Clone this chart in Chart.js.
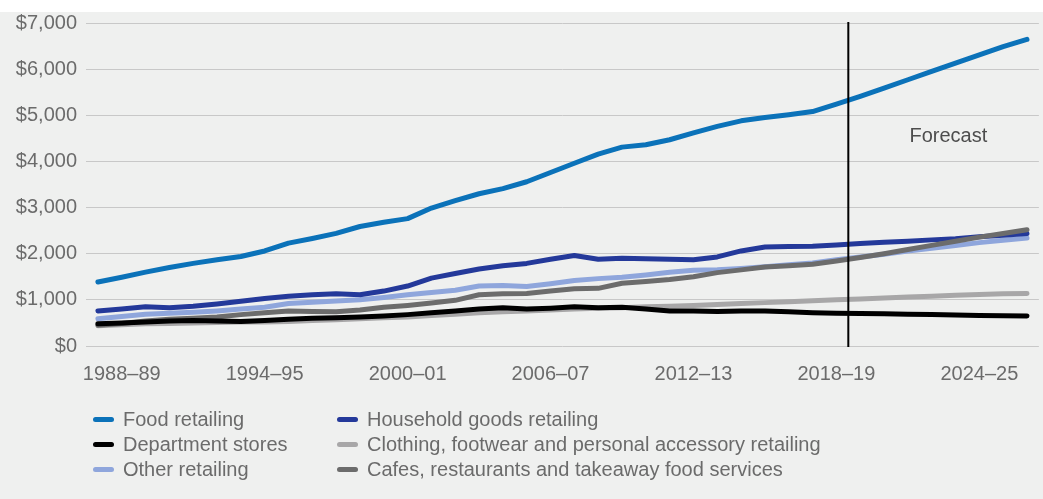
<!DOCTYPE html>
<html>
<head>
<meta charset="utf-8">
<script src="https://cdn.jsdelivr.net/npm/chart.js@4"></script>
<style>
  html, body { margin: 0; padding: 0; background: #fff; }
  #wrap { position: relative; width: 1043px; height: 499px; overflow: hidden; }
  #band { position: absolute; left: 0; top: 12px; width: 1043px; height: 487px; background: #eff0ef; }
  #myLineChart { position: absolute; left: 0; top: 0; }
  #legend {
    position: absolute; left: 93px; top: 407px;
    display: grid; grid-template-columns: 244px auto;
    font-family: "Liberation Sans", Arial, sans-serif; font-size: 20px; color: #6b6b6b;
    line-height: 25px;
  }
  #legend .item { display: flex; align-items: center; white-space: nowrap; }
  #legend .sw { width: 21px; height: 5px; border-radius: 3px; margin-right: 9px; }
</style>
</head>
<body>
<div id="wrap">
  <div id="band"></div>
  <canvas id="myLineChart" width="1043" height="499"></canvas>
  <div id="legend"></div>
</div>
<script>
// años financieros, del 1987-88 al 2026-27
const anios = [];
for (let a = 1987; a <= 2026; a++) {
  anios.push(a + '\u2013' + String((a + 1) % 100).padStart(2, '0'));
}

const alimentos = [1387, 1490, 1600, 1700, 1790, 1870, 1940, 2060, 2230, 2330,
  2440, 2590, 2680, 2760, 2990, 3150, 3300, 3410, 3560, 3760,
  3960, 4160, 4310, 4360, 4470, 4620, 4760, 4880, 4950, 5010,
  5080, 5240, 5410, 5590, 5770, 5950, 6130, 6310, 6490, 6645];
const hogar = [760, 800, 850, 830, 860, 910, 970, 1030, 1080, 1110,
  1130, 1110, 1190, 1300, 1470, 1570, 1670, 1740, 1790, 1880,
  1960, 1880, 1900, 1890, 1880, 1870, 1930, 2060, 2145, 2155,
  2160, 2190, 2220, 2250, 2270, 2300, 2325, 2370, 2400, 2440];
const tiendasDepto = [480, 500, 520, 540, 550, 540, 530, 550, 580, 600,
  610, 630, 650, 680, 720, 760, 800, 830, 800, 820,
  850, 830, 840, 800, 760, 760, 750, 760, 760, 740,
  720, 710, 705, 700, 690, 680, 670, 660, 655, 650];
const ropa = [440, 460, 480, 490, 500, 510, 520, 520, 530, 550,
  570, 590, 610, 630, 660, 690, 720, 740, 760, 780,
  800, 820, 830, 850, 860, 880, 900, 920, 940, 960,
  980, 1000, 1020, 1040, 1060, 1080, 1100, 1115, 1130, 1140];
const otros = [590, 640, 690, 710, 730, 760, 800, 840, 920, 950,
  975, 1000, 1050, 1110, 1160, 1210, 1300, 1310, 1290, 1350,
  1420, 1460, 1490, 1540, 1600, 1640, 1650, 1680, 1720, 1760,
  1800, 1870, 1930, 1990, 2060, 2120, 2180, 2240, 2290, 2340];
const cafes = [450, 490, 540, 580, 600, 630, 680, 720, 760, 750,
  740, 780, 840, 880, 930, 990, 1110, 1130, 1140, 1190,
  1240, 1250, 1360, 1400, 1440, 1500, 1590, 1650, 1710, 1740,
  1770, 1840, 1920, 2000, 2090, 2180, 2270, 2360, 2440, 2520];

const ultimoReal = '2018\u201319';
const textoPronostico = 'Forecast';

const series = [
  { label: 'Food retailing', data: alimentos, color: '#0b72b9', order: 0 },
  { label: 'Household goods retailing', data: hogar, color: '#24399a', order: 3 },
  { label: 'Department stores', data: tiendasDepto, color: '#000000', order: 1 },
  { label: 'Clothing, footwear and personal accessory retailing', data: ropa, color: '#a8a7a8', order: 5 },
  { label: 'Other retailing', data: otros, color: '#8fa6dc', order: 4 },
  { label: 'Cafes, restaurants and takeaway food services', data: cafes, color: '#6c6c6c', order: 2 }
];

const fuente = '"Liberation Sans", Arial, sans-serif';

// linea vertical y texto del pronostico
const pronosticoPlugin = {
  id: 'pronostico',
  afterDatasetsDraw(chart) {
    const { ctx, chartArea, scales } = chart;
    const i = anios.indexOf(ultimoReal);
    const x = (scales.x.getPixelForValue(i) + scales.x.getPixelForValue(i + 1)) / 2;
    ctx.save();
    ctx.strokeStyle = '#000';
    ctx.lineWidth = 2;
    ctx.beginPath();
    ctx.moveTo(x, chartArea.top - 1);
    ctx.lineTo(x, chartArea.bottom + 1);
    ctx.stroke();
    ctx.fillStyle = '#4d4d4d';
    ctx.font = '20px ' + fuente;
    ctx.textAlign = 'center';
    ctx.textBaseline = 'middle';
    ctx.fillText(textoPronostico, scales.x.getPixelForValue(35.7), scales.y.getPixelForValue(4550));
    ctx.restore();
  }
};

var ctx = document.getElementById('myLineChart').getContext('2d');
var myLineChart = new Chart(ctx, {
  type: 'line',
  data: {
    labels: anios,
    datasets: series.map(s => ({
      label: s.label,
      data: s.data,
      borderColor: s.color,
      backgroundColor: s.color,
      order: s.order,
      fill: false
    }))
  },
  options: {
    responsive: false,
    animation: false,
    layout: { padding: { top: 23, right: 2, bottom: 113, left: 0 } },
    elements: {
      point: { radius: 0 },
      line: { borderWidth: 5, tension: 0, borderCapStyle: 'round', borderJoinStyle: 'round' }
    },
    plugins: {
      legend: { display: false },
      tooltip: { enabled: false }
    },
    scales: {
      x: {
        offset: true,
        grid: { display: false, drawTicks: false },
        border: { display: false },
        ticks: {
          autoSkip: false, maxRotation: 0, minRotation: 0, padding: 16,
          color: '#6b6b6b', font: { family: fuente, size: 20 },
          callback: (v, i) => ((i - 1) % 6 === 0 ? anios[i] : '')
        },
        afterFit: s => { s.height = 40; }
      },
      y: {
        min: 0, max: 7000,
        grid: { color: '#c8c8c8', lineWidth: 1, drawTicks: false },
        border: { display: false },
        ticks: {
          stepSize: 1000, padding: 9,
          color: '#6b6b6b', font: { family: fuente, size: 20 },
          callback: v => '$' + v.toLocaleString('en-US')
        },
        afterFit: s => { s.width = 86; }
      }
    }
  },
  plugins: [pronosticoPlugin]
});

// leyenda en dos columnas
const leyenda = document.getElementById('legend');
series.forEach(s => {
  const item = document.createElement('div');
  item.className = 'item';
  item.innerHTML = '<span class="sw" style="background:' + s.color + '"></span><span>' + s.label + '</span>';
  leyenda.appendChild(item);
});
</script>
</body>
</html>
